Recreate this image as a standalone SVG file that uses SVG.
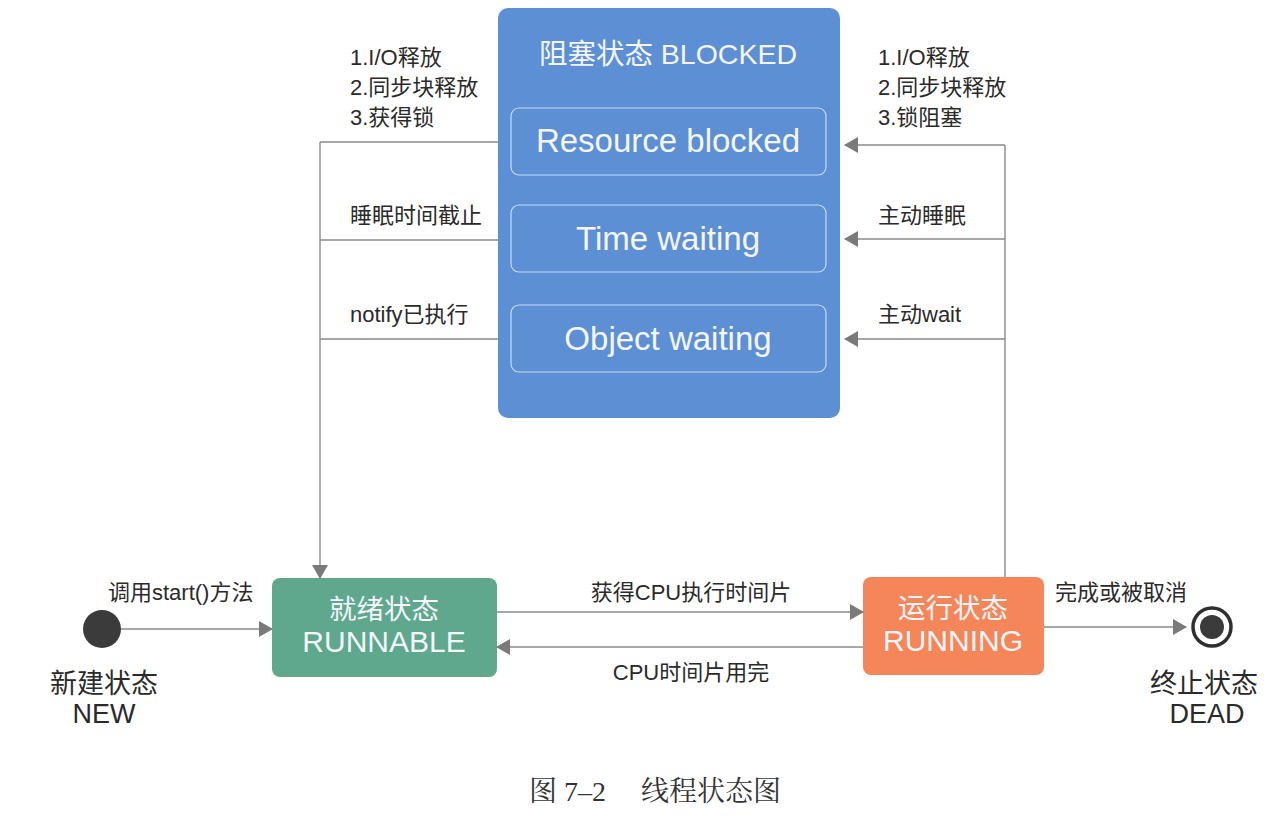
<svg xmlns="http://www.w3.org/2000/svg" width="1277" height="821" viewBox="0 0 1277 821">
<style>
.lbl{font-family:"Liberation Sans","Noto Sans CJK SC",sans-serif;font-size:22px;fill:#2a2a2a}
.st{font-family:"Liberation Sans","Noto Sans CJK SC",sans-serif;font-size:27px;fill:#2a2a2a;text-anchor:middle}
.wt{font-family:"Liberation Sans","Noto Sans CJK SC",sans-serif;fill:#f4f6fa;text-anchor:middle}
.ln{fill:none;stroke:#8a8a8a;stroke-width:1.4}
.inner{fill:none;stroke:#e6eefa;stroke-width:1.2;stroke-opacity:0.8}
</style>
<defs>
<marker id="ah" viewBox="0 0 14 16" refX="13" refY="8" markerWidth="14" markerHeight="16" markerUnits="userSpaceOnUse" orient="auto">
<path d="M0,0 L14,8 L0,16 Z" fill="#7a7a7a"/>
</marker>
</defs>
<rect width="1277" height="821" fill="#ffffff"/>

<g id="blocked">
<rect x="498" y="8" width="342" height="410" rx="10" fill="#5d8fd5"/>
<text class="wt" x="668" y="64" font-size="28.5">阻塞状态 BLOCKED</text>
<rect class="inner" x="511" y="108" width="315" height="67" rx="8"/>
<text class="wt" x="668" y="152" font-size="33">Resource blocked</text>
<rect class="inner" x="511" y="205" width="315" height="67" rx="8"/>
<text class="wt" x="668" y="250" font-size="33">Time waiting</text>
<rect class="inner" x="511" y="305" width="315" height="67" rx="8"/>
<text class="wt" x="668" y="350" font-size="33">Object waiting</text>
</g>

<g id="new">
<circle cx="102" cy="629" r="19" fill="#3b3b3b"/>
<text class="st" x="104" y="693">新建状态</text>
<text class="st" x="104" y="723" font-size="29">NEW</text>
</g>

<g id="runnable">
<rect x="272" y="578" width="225" height="99" rx="8" fill="#5fa88e"/>
<text class="wt" x="384" y="619" font-size="27.5">就绪状态</text>
<text class="wt" x="384" y="652" font-size="30">RUNNABLE</text>
</g>

<g id="running">
<rect x="863" y="577" width="181" height="98" rx="8" fill="#f5865a"/>
<text class="wt" x="953" y="618" font-size="27.5">运行状态</text>
<text class="wt" x="953" y="651" font-size="30">RUNNING</text>
</g>

<g id="dead">
<circle cx="1212" cy="627" r="19" fill="none" stroke="#2f2f2f" stroke-width="3.5"/>
<circle cx="1212" cy="627" r="12" fill="#3b3b3b"/>
<text class="st" x="1204" y="693">终止状态</text>
<text class="st" x="1207" y="723" font-size="29">DEAD</text>
</g>

<g id="connectors">
<path class="ln" d="M498,142 H320 M498,240 H320 M498,339 H320"/>
<path class="ln" d="M320,142 V578" marker-end="url(#ah)"/>
<path class="ln" d="M1005,577 V145"/>
<path class="ln" d="M1005,145 H845" marker-end="url(#ah)"/>
<path class="ln" d="M1005,239 H845" marker-end="url(#ah)"/>
<path class="ln" d="M1005,339 H845" marker-end="url(#ah)"/>
<path class="ln" d="M121,629 H272" marker-end="url(#ah)"/>
<path class="ln" d="M497,612 H863" marker-end="url(#ah)"/>
<path class="ln" d="M863,647 H497" marker-end="url(#ah)"/>
<path class="ln" d="M1044,627 H1186" marker-end="url(#ah)"/>

<text class="lbl" x="350" y="65">1.I/O释放</text>
<text class="lbl" x="350" y="95">2.同步块释放</text>
<text class="lbl" x="350" y="125">3.获得锁</text>
<text class="lbl" x="350" y="223">睡眠时间截止</text>
<text class="lbl" x="350" y="322">notify已执行</text>

<text class="lbl" x="878" y="65">1.I/O释放</text>
<text class="lbl" x="878" y="95">2.同步块释放</text>
<text class="lbl" x="878" y="125">3.锁阻塞</text>
<text class="lbl" x="878" y="223">主动睡眠</text>
<text class="lbl" x="878" y="322">主动wait</text>

<text class="lbl" x="108" y="600">调用start()方法</text>
<text class="lbl" x="691" y="600" text-anchor="middle">获得CPU执行时间片</text>
<text class="lbl" x="691" y="680" text-anchor="middle">CPU时间片用完</text>
<text class="lbl" x="1055" y="600">完成或被取消</text>
</g>

<text x="655" y="801" text-anchor="middle" font-family="Liberation Serif,Noto Serif CJK SC,Noto Sans CJK SC,serif" font-size="28" fill="#333" xml:space="preserve">图 7–2     线程状态图</text>
</svg>
